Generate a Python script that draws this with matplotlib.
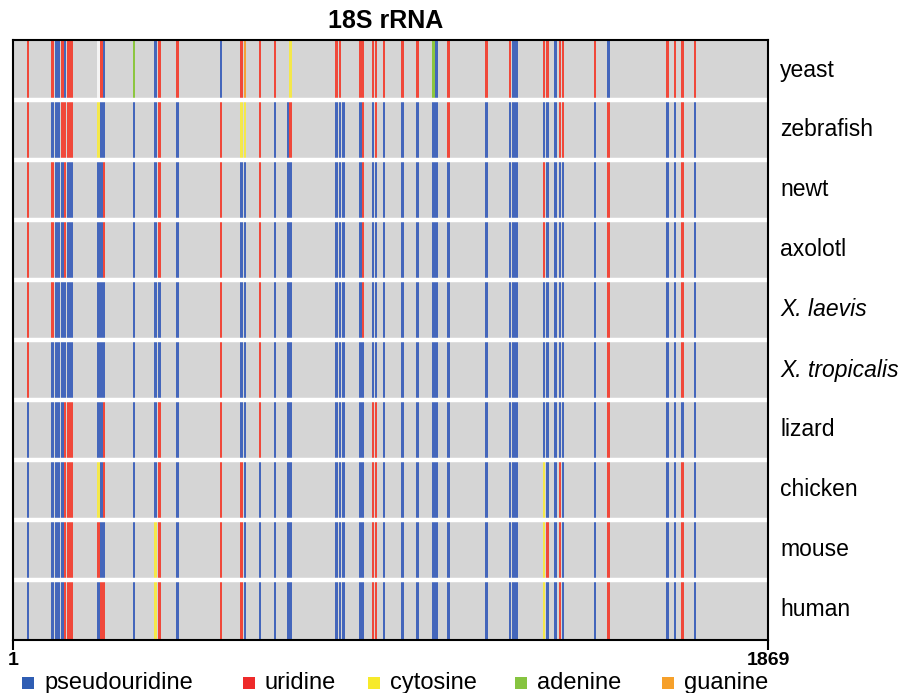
import matplotlib
matplotlib.use("Agg")
import matplotlib.pyplot as plt
from matplotlib.patches import Rectangle

plt.rcParams['font.family'] = ['Liberation Sans', 'DejaVu Sans']

# ---------------- data ----------------
seq_len = 1869
species = ["yeast", "zebrafish", "newt", "axolotl", "X. laevis",
           "X. tropicalis", "lizard", "chicken", "mouse", "human"]
italic_species = ["X. laevis", "X. tropicalis"]

# modified / candidate sites along the 18S rRNA
sites = [38, 98, 109, 115, 124, 130, 138, 146, 213, 220, 226, 300,
         354, 363, 408, 516, 567, 575, 612, 649, 681, 688, 802, 810,
         818, 860, 867, 892, 899, 919, 964, 1002, 1041, 1049, 1078, 1173,
         1231, 1239, 1246, 1315, 1323, 1344, 1354, 1362, 1441, 1474,
         1620, 1639, 1658, 1688]

# B = pseudouridine, R = uridine, Y = cytosine, G = adenine, O = guanine,
# W = gap (white), - = none
codes = {
    "yeast":         "R" "RBBRBRR" "WRB" "G" "BRR" "BROR" "R-Y" "RR-" "RRRRR" "RR" "GB" "RR" "RBB" "RR" "BRR" "RB" "RRRR",
    "zebrafish":     "R" "BBBRRRR" "YBB" "B" "BRB" "RYYR" "BBR" "BBB" "BRBRB" "BB" "BB" "RB" "BBB" "BB" "BRR" "BR" "BBRB",
    "newt":          "R" "RBBBRBB" "BBR" "B" "BRB" "RBBR" "BBB" "BBB" "BRBBB" "BB" "BB" "BB" "BBB" "RB" "BBB" "BR" "BBRB",
    "axolotl":       "R" "RBBBRBB" "BBR" "B" "BRB" "RBBR" "BBB" "BBB" "BRBBB" "BB" "BB" "BB" "BBB" "RB" "BBB" "BR" "BBRB",
    "X. laevis":     "R" "RBBBBBB" "BBB" "B" "BBB" "RBBR" "BBB" "BBB" "BRBBB" "BB" "BB" "BB" "BBB" "BB" "BBB" "BR" "BBRB",
    "X. tropicalis": "R" "BBBBBBB" "BBB" "B" "BBB" "RBBR" "BBB" "BBB" "BBBBB" "BB" "BB" "BB" "BBB" "BB" "BBB" "BR" "BBRB",
    "lizard":        "B" "BBBBRRR" "BBR" "B" "BRB" "RBBR" "BBB" "BBB" "BBRRB" "BB" "BB" "BB" "BBB" "BB" "BBB" "BR" "BBBB",
    "chicken":       "B" "BBBBRRR" "YBR" "B" "BRB" "RRBB" "BBB" "BBB" "BBRRB" "BB" "BB" "BB" "BBB" "YB" "BRB" "BR" "BBRB",
    "mouse":         "B" "BBBBRRR" "RBB" "B" "YRB" "RRBB" "BBB" "BBB" "BBRRB" "BB" "BB" "BB" "BBB" "YR" "BRB" "BR" "BBRB",
    "human":         "B" "BBBBRRR" "BRR" "B" "YRB" "RRBB" "BBB" "BBB" "BBRRB" "BB" "BB" "BB" "BBB" "YB" "BRB" "BR" "BBRB",
}

legend_keys = ["B", "R", "Y", "G", "O"]
legend_labels = ["pseudouridine", "uridine", "cytosine", "adenine", "guanine"]

# ---------------- style ----------------
colors = {"B": "#4466bb", "R": "#f0483a", "Y": "#f4e84a",
          "G": "#8cc640", "O": "#f5a235", "W": "#f4f4f4"}
legend_colors = {"B": "#2f5db3", "R": "#ee2a2a", "Y": "#f7ea2a",
                 "G": "#86c440", "O": "#f6a02a"}

fig = plt.figure(figsize=(9.04, 6.93), dpi=100)
ax = fig.add_axes([13/904, 1-640/693, 755/904, 600/693])
ax.set_facecolor("#d5d5d5")

bar_w = 6.5
for i, sp in enumerate(species):
    code = codes[sp]
    for pos, c in zip(sites, code):
        if c == "-":
            continue
        ax.bar(pos, 1.0, bottom=i, width=bar_w, color=colors[c],
               linewidth=0, zorder=2)

for i in range(1, len(species)):
    ax.axhline(i, color="white", lw=3.2, zorder=3)

ax.set_xlim(1, seq_len)
ax.set_ylim(len(species), 0)
ax.set_yticks([])
ax.set_xticks([1, seq_len])
ax.set_xticklabels(["1", str(seq_len)], fontsize=14, fontweight="bold")
ax.tick_params(axis="x", length=7.5, width=1.5, pad=1, direction="out")
for s in ax.spines.values():
    s.set_color("black")
    s.set_linewidth(1.5)
    s.set_zorder(5)

ytr = ax.get_yaxis_transform()
for i, sp in enumerate(species):
    ax.text(1.016, i + 0.5, sp, transform=ytr, fontsize=16.5,
            ha="left", va="center",
            style="italic" if sp in italic_species else "normal")

fig.text(386/904, 1-21/693, "18S rRNA", fontsize=18, fontweight="bold",
         ha="center", va="center")

# legend row
sq_x = [22, 243, 368, 515, 662]
for x0, k, lab in zip(sq_x, legend_keys, legend_labels):
    fig.add_artist(Rectangle((x0/904, 1-689/693), 12/904, 12/693,
                             transform=fig.transFigure,
                             facecolor=legend_colors[k], edgecolor="none"))
    fig.text((x0+22)/904, 1-683/693, lab, fontsize=17,
             ha="left", va="center")

fig.savefig("out.png", dpi=100)
